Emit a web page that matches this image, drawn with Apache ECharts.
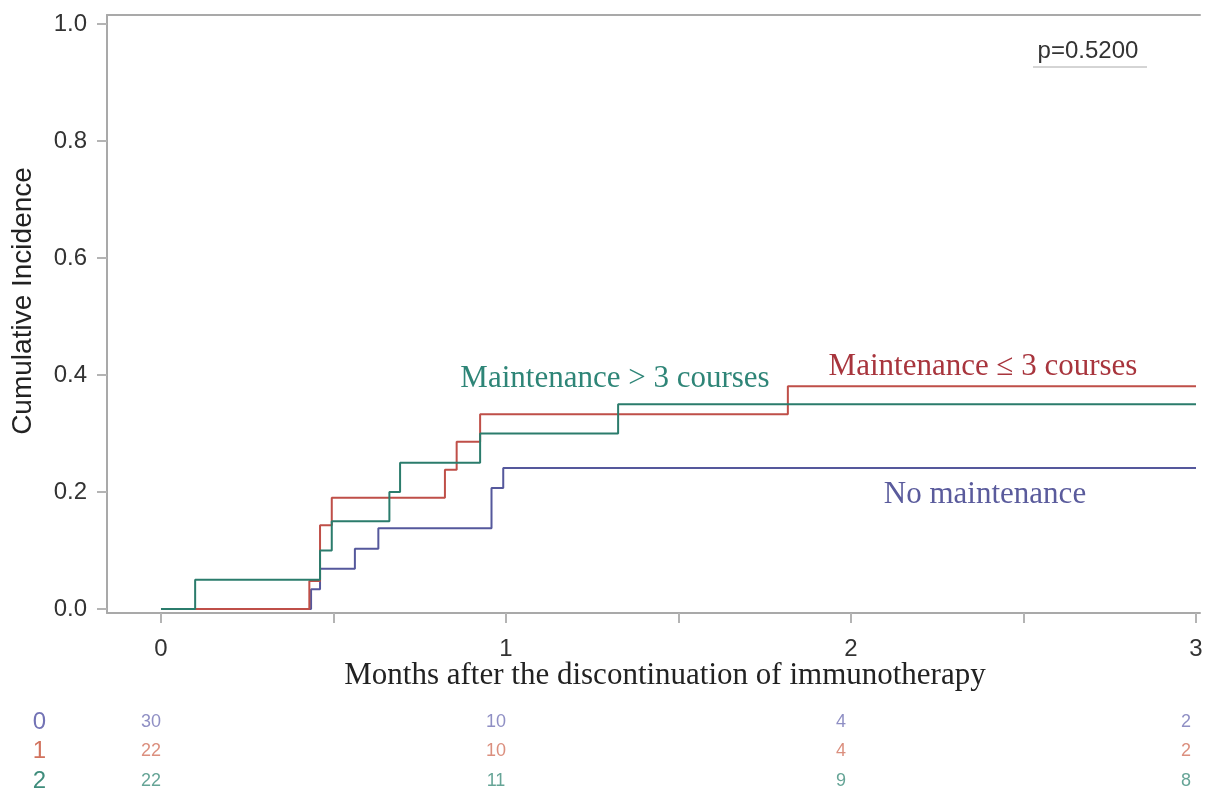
<!DOCTYPE html>
<html><head><meta charset="utf-8">
<script src="https://cdn.jsdelivr.net/npm/echarts@6/dist/echarts.min.js"></script>
<style>html,body{margin:0;padding:0;background:#fff}#c{width:1211px;height:793px}</style>
</head><body><div id="c"></div>
<script>
// ---- data ----
const noMaintTimes = [0, 0.435, 0.461, 0.562, 0.630, 0.958, 0.992, 3.0];
const noMaintCif   = [0, 0.034, 0.069, 0.103, 0.138, 0.207, 0.241, 0.241];
const le3Times = [0, 0.430, 0.461, 0.495, 0.823, 0.857, 0.925, 1.817, 3.0];
const le3Cif   = [0, 0.048, 0.143, 0.190, 0.238, 0.286, 0.333, 0.381, 0.381];
const gt3Times = [0, 0.099, 0.461, 0.495, 0.662, 0.693, 0.925, 1.325, 3.0];
const gt3Cif   = [0, 0.050, 0.100, 0.150, 0.200, 0.250, 0.300, 0.350, 0.350];

const xTickValues  = [0, 0.5, 1, 1.5, 2, 2.5, 3];
const xLabelValues = [0, 1, 2, 3];
const yTickValues  = [0, 0.2, 0.4, 0.6, 0.8, 1.0];

const groupLabels = ['0', '1', '2'];
const riskTimes = [0, 1, 2, 3];
const riskNoMaint = [30, 10, 4, 2];
const riskLe3     = [22, 10, 4, 2];
const riskGt3     = [22, 11, 9, 8];

const curveNames = ['No maintenance', 'Maintenance \u2264 3 courses', 'Maintenance > 3 courses'];
const pValueText = 'p=0.5200';
const xTitle = 'Months after the discontinuation of immunotherapy';
const yTitle = 'Cumulative Incidence';

// ---- styles ----
const lineColors  = ['#55589c', '#bf4f48', '#2b7c6c'];
const labelColors = ['#5a5b9c', '#a8353d', '#2e8577'];
const riskColors  = ['#7373b5', '#d2735e', '#3f8d7c'];
const axisGray = '#a9a9a9';

const pair = (t, v) => t.map((x, i) => [x, v[i]]);
const riskSets = [riskNoMaint, riskLe3, riskGt3];

const chart = echarts.init(document.getElementById('c'), null, {renderer: 'canvas'});

const curveSeries = [
  [noMaintTimes, noMaintCif],
  [le3Times, le3Cif],
  [gt3Times, gt3Cif]
].map((d, i) => ({
  type: 'line', name: curveNames[i], xAxisIndex: 0, yAxisIndex: 0,
  step: 'end', showSymbol: false, symbol: 'none',
  data: pair(d[0], d[1]),
  lineStyle: {color: lineColors[i], width: 2},
  itemStyle: {color: lineColors[i]},
  z: 3 + i
}));

const riskSeries = riskSets.map((arr, g) => ({
  type: 'scatter', xAxisIndex: 2, yAxisIndex: 1,
  symbolSize: 1, itemStyle: {color: 'rgba(0,0,0,0)'},
  data: riskTimes.map((t, i) => ({value: [t, g], name: String(arr[i])})),
  label: {show: true, position: 'inside', formatter: '{b}', offset: [-10, 0],
          fontSize: 18, fontFamily: 'Liberation Sans', color: riskColors[g]}
}));

const option = {
  animation: false,
  backgroundColor: '#ffffff',
  grid: [
    {left: 107, top: 15, right: 11, bottom: 180},
    {left: 107, right: 11, top: 722, bottom: 12}
  ],
  xAxis: [
    {type: 'value', gridIndex: 0, min: -0.1565, max: 3.0116,
     axisLine: {show: true, onZero: false, lineStyle: {color: axisGray, width: 2}},
     axisTick: {show: true, customValues: xTickValues, length: 10, lineStyle: {color: '#b4b4b4', width: 2}},
     axisLabel: {show: true, customValues: xLabelValues, fontSize: 24, color: '#333', margin: 24,
                 fontFamily: 'Liberation Sans'},
     splitLine: {show: false}},
    {type: 'value', gridIndex: 0, position: 'top', min: -0.1565, max: 3.0116,
     axisLine: {show: true, onZero: false, lineStyle: {color: axisGray, width: 2}},
     axisTick: {show: false}, axisLabel: {show: false}, splitLine: {show: false}},
    {type: 'value', gridIndex: 1, min: -0.1565, max: 3.0116, show: false}
  ],
  yAxis: [
    {type: 'value', gridIndex: 0, min: -0.0068, max: 1.0154,
     axisLine: {show: true, onZero: false, lineStyle: {color: axisGray, width: 2}},
     axisTick: {show: true, customValues: yTickValues, length: 10, lineStyle: {color: '#b4b4b4', width: 2}},
     axisLabel: {show: true, customValues: yTickValues, fontSize: 24, color: '#333', margin: 20,
                 fontFamily: 'Liberation Sans', formatter: v => Number(v).toFixed(1)},
     splitLine: {show: false}},
    {type: 'category', gridIndex: 1, data: groupLabels, inverse: true, boundaryGap: false,
     axisLine: {show: false}, axisTick: {show: false}, splitLine: {show: false},
     axisLabel: {show: true, interval: 0, fontSize: 24, margin: 61, fontFamily: 'Liberation Sans',
                 color: (v, i) => riskColors[i]}}
  ],
  series: curveSeries.concat(riskSeries),
  graphic: [
    {type: 'text', x: 23, y: 301, rotation: Math.PI / 2,
     style: {text: yTitle, x: 0, y: 0, fill: '#222', font: '28px "Liberation Sans"',
             textAlign: 'center', textVerticalAlign: 'middle', align: 'center', verticalAlign: 'middle'}},
    {type: 'text', x: 665, y: 676,
     style: {text: xTitle, x: 0, y: 0, fill: '#222', font: '31px "Liberation Serif"',
             textAlign: 'center', textVerticalAlign: 'middle', align: 'center', verticalAlign: 'middle'}},
    {type: 'text', x: 1088, y: 51,
     style: {text: pValueText, x: 0, y: 0, fill: '#333', font: '24px "Liberation Sans"',
             textAlign: 'center', textVerticalAlign: 'middle', align: 'center', verticalAlign: 'middle'}},
    {type: 'line', shape: {x1: 1033, y1: 67, x2: 1147, y2: 67}, style: {stroke: '#aaaaaa', lineWidth: 1}},
    {type: 'text', x: 615, y: 379,
     style: {text: curveNames[2], x: 0, y: 0, fill: labelColors[2], font: '31px "Liberation Serif"',
             textAlign: 'center', textVerticalAlign: 'middle', align: 'center', verticalAlign: 'middle'}},
    {type: 'text', x: 983, y: 367,
     style: {text: curveNames[1], x: 0, y: 0, fill: labelColors[1], font: '31px "Liberation Serif"',
             textAlign: 'center', textVerticalAlign: 'middle', align: 'center', verticalAlign: 'middle'}},
    {type: 'text', x: 985, y: 495,
     style: {text: curveNames[0], x: 0, y: 0, fill: labelColors[0], font: '31px "Liberation Serif"',
             textAlign: 'center', textVerticalAlign: 'middle', align: 'center', verticalAlign: 'middle'}}
  ]
};
chart.setOption(option);
</script>
</body></html>
